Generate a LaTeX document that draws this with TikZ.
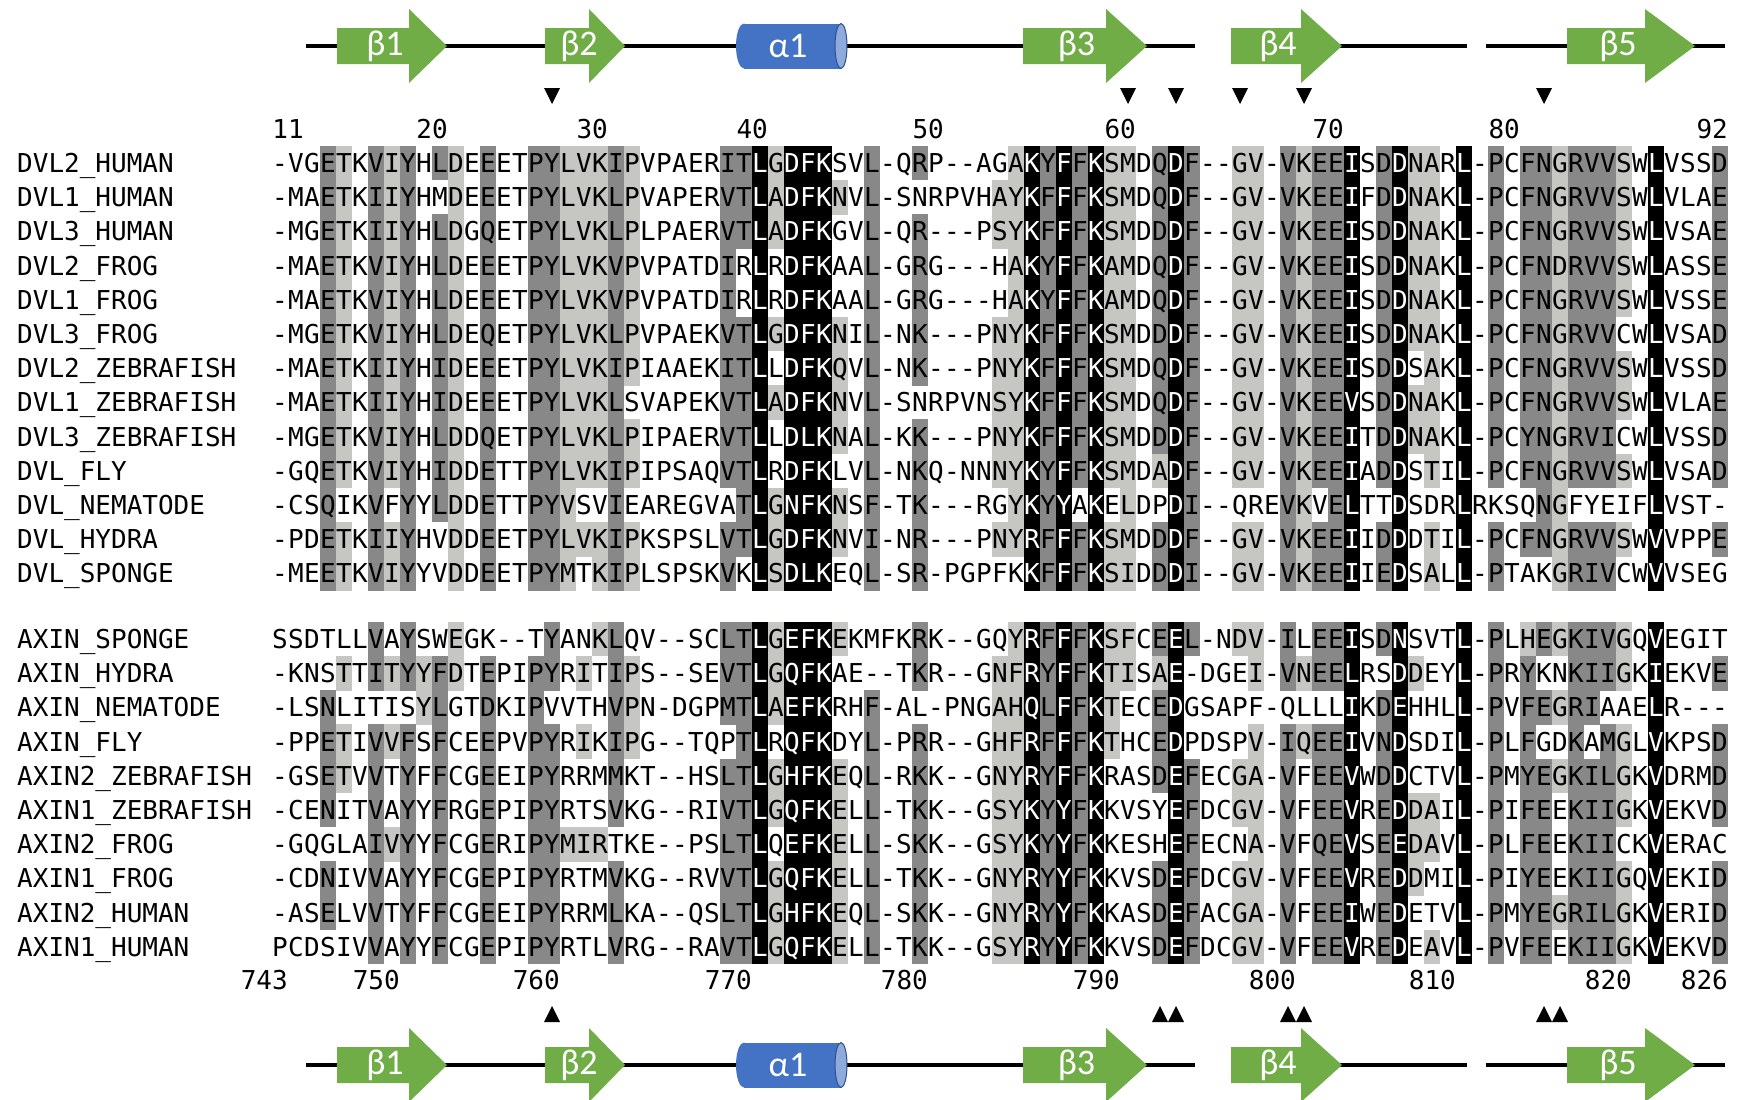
\documentclass[tikz,border=0pt]{standalone}
\usepackage{fontspec}
\setmonofont{DejaVu Sans Mono}
\newfontfamily\sslabelfont{Carlito}
\usepackage{xstring}

\definecolor{shade1}{RGB}{198,198,194}
\definecolor{shade2}{RGB}{136,136,136}
\definecolor{shade3}{RGB}{0,0,0}
\colorlet{ink0}{black}
\colorlet{ink1}{black}
\colorlet{ink2}{black}
\colorlet{ink3}{white}
\definecolor{strandgreen}{RGB}{112,173,71}
\definecolor{helixblue}{RGB}{68,114,196}
\definecolor{helixend}{RGB}{143,170,220}

% one alignment row: id, y, name, residues, shading (0 none, 1 light, 2 dark, 3 black)
\newcommand{\alnrow}[5]{%
  \node[seqname] (#1) at (17,#2+9.5) {#3};
  \StrDel{#5}{.}[\shadestr]%
  \foreach \i in {1,...,91} {
    \StrChar{#4}{\i}[\resch]%
    \StrChar{\shadestr}{\i}[\shd]%
    \ifnum\shd>0 \fill[shade\shd] ({256+16*\i},#2-17.2) rectangle ++(16.4,34.6);\fi
    \node[resid,text=ink\shd] (#1-\i) at ({264+16*\i},#2+9.5) {\resch};
  }
}

% strand arrow: name, start x, head x, tip x, y, label
\newcommand{\strandarrow}[6]{%
  \fill[strand] (#2,#5-18) -- (#3,#5-18) -- (#3,#5-37) -- (#4,#5) -- (#3,#5+37) -- (#3,#5+18) -- (#2,#5+18) -- cycle;
  \node[sslabel] (#1) at ({(#2+#3)/2+12},#5) {#6};
}

% secondary structure track: name prefix, y
\newcommand{\sstrack}[2]{%
  \draw[backbone] (306,#2) -- (1195,#2);
  \draw[backbone] (1231,#2) -- (1467,#2);
  \draw[backbone] (1486,#2) -- (1725,#2);
  \strandarrow{#1b1}{337}{409}{447}{#2}{β1}
  \strandarrow{#1b2}{545}{589}{625}{#2}{β2}
  \fill[helixblue] (744,#2-22.5) rectangle (841,#2+22.5);
  \fill[helixblue] (744,#2) ellipse [x radius=8, y radius=22.5];
  \filldraw[fill=helixend, draw=helixblue!70!black, line width=1pt] (841,#2) ellipse [x radius=6, y radius=22.5];
  \node[sslabel] (#1a1) at (788,#2) {α1};
  \strandarrow{#1b3}{1023}{1106}{1147}{#2}{β3}
  \strandarrow{#1b4}{1231}{1301}{1342}{#2}{β4}
  \strandarrow{#1b5}{1567}{1645}{1695}{#2}{β5}
}

\begin{document}
\begin{tikzpicture}[x=1pt,y=-1pt,
    seqfont/.style={font=\ttfamily\fontsize{26}{26}\selectfont},
    seqname/.style={seqfont,anchor=base west,inner sep=0pt},
    resid/.style={seqfont,anchor=base,inner sep=0pt},
    posnum/.style={seqfont,anchor=base east,inner sep=0pt},
    strand/.style={fill=strandgreen},
    sslabel/.style={text=white,inner sep=0pt,font=\sslabelfont\fontsize{36}{36}\selectfont},
    backbone/.style={line width=4pt}]
  \useasboundingbox (0,0) rectangle (1743,1100);

  % secondary structure
  \sstrack{top}{46}
  \sstrack{bot}{1065}

  % marked sites
  \foreach \c in {18,54,57,61,65,80}
    \fill ({264+16*\c-8},88) -- ++(16,0) -- ++(-8,16) -- cycle;
  \foreach \c in {18,56,57,64,65,80,81}
    \fill ({264+16*\c-8},1022) -- ++(16,0) -- ++(-8,-16) -- cycle;

  % residue numbers
  \foreach \c/\n in {2/11,11/20,21/30,31/40,42/50,54/60,67/70,78/80,91/92}
    \node[posnum] (dvl\n) at ({272+16*\c},138) {\n};
  \foreach \c/\n in {1/743,8/750,18/760,30/770,41/780,53/790,64/800,74/810,85/820,91/826}
    \node[posnum] (axin\n) at ({272+16*\c},989) {\n};

  % DVL block
  \alnrow{d1}{163.0}{DVL2\_HUMAN}{-VGETKVIYHLDEEETPYLVKIPVPAERITLGDFKSVL-QRP--AGAKYFFKSMDQDF--GV-VKEEISDDNARL-PCFNGRVVSWLVSSD}
    {0002102120.2102002211.1210000022.3133300200.2000001323.2311023200.1102122302.3110302022.12221030002}
  \alnrow{d2}{197.2}{DVL1\_HUMAN}{-MAETKIIYHMDEEETPYLVKLPVAPERVTLADFKNVL-SNRPVHAYKFFFKSMDQDF--GV-VKEEIFDDNAKL-PCFNGRVVSWLVLAE}
    {0002102120.0102002211.1210000022.3133310200.0000011323.2311023200.1102122302.3110302022.12221030002}
  \alnrow{d3}{231.4}{DVL3\_HUMAN}{-MGETKIIYHLDGQETPYLVKLPLPAERVTLADFKGVL-QR---PSYKFFFKSMDDDF--GV-VKEEISDDNAKL-PCFNGRVVSWLVSAE}
    {0002102120.2102002211.1210000022.3133300200.2000011323.2311023200.1102122302.3110302022.12221030002}
  \alnrow{d4}{265.6}{DVL2\_FROG}{-MAETKVIYHLDEEETPYLVKVPVPATDIRLRDFKAAL-GRG---HAKYFFKAMDQDF--GV-VKEEISDDNAKL-PCFNDRVVSWLASSE}
    {0002102120.2102002211.1210000020.3033300200.2000001323.2311023200.1102122302.3110302022.12221030002}
  \alnrow{d5}{299.8}{DVL1\_FROG}{-MAETKVIYHLDEEETPYLVKVPVPATDIRLRDFKAAL-GRG---HAKYFFKAMDQDF--GV-VKEEISDDNAKL-PCFNGRVVSWLVSSE}
    {0002102120.2102002211.1210000020.3033300200.2000001323.2311023200.1102122302.3110302022.12221030002}
  \alnrow{d6}{334.0}{DVL3\_FROG}{-MGETKVIYHLDEQETPYLVKLPVPAEKVTLGDFKNIL-NK---PNYKFFFKSMDDDF--GV-VKEEISDDNAKL-PCFNGRVVCWLVSAD}
    {0002102120.2102002211.1210000022.3133310200.2000011323.2311023200.1102122302.3110302022.12220030002}
  \alnrow{d7}{368.2}{DVL2\_ZEBRAFISH}{-MAETKIIYHIDEEETPYLVKIPIAAEKITLLDFKQVL-NK---PNYKFFFKSMDQDF--GV-VKEEISDDSAKL-PCFNGRVVSWLVSSD}
    {0002102120.2102002211.1210000022.3033310200.2000011323.2311023200.1102122302.3010302022.12221030002}
  \alnrow{d8}{402.4}{DVL1\_ZEBRAFISH}{-MAETKIIYHIDEEETPYLVKLSVAPEKVTLADFKNVL-SNRPVNSYKFFFKSMDQDF--GV-VKEEVSDDNAKL-PCFNGRVVSWLVLAE}
    {0002102120.2102002211.1200000022.3133310200.0000011323.2311023200.1102122302.3110302022.12221030002}
  \alnrow{d9}{436.6}{DVL3\_ZEBRAFISH}{-MGETKVIYHLDDQETPYLVKLPIPAERVTLLDLKNAL-KK---PNYKFFFKSMDDDF--GV-VKEEITDDNAKL-PCYNGRVICWLVSSD}
    {0002102120.2102002211.1210000022.3033310200.2000011323.2311023200.1102122302.3110302022.12220030002}
  \alnrow{d10}{470.8}{DVL\_FLY}{-GQETKVIYHIDDETTPYLVKIPIPSAQVTLRDFKLVL-NKQ-NNNYKYFFKSMDADF--GV-VKEEIADDSTIL-PCFNGRVVSWLVSAD}
    {0002102120.2102002211.1210000022.3033300200.2000011323.2311013200.1102122302.3010302022.12221030002}
  \alnrow{d11}{505.0}{DVL\_NEMATODE}{-CSQIKVFYYLDDETTPYVSVIEAREGVATLGNFKNSF-TK---RGYKYYAKELDPDI--QREVKVELTTDSDRLRKSQNGFYEIFLVST-}
    {0002002020.2102002210.0200000002.3133310200.2000001323.0301003200.0002102300.3000300002.10000030000}
  \alnrow{d12}{539.2}{DVL\_HYDRA}{-PDETKIIYHVDDEETPYLVKIPKSPSLVTLGDFKNVI-NR---PNYRFFFKSMDDDF--GV-VKEEIIDDDTIL-PCFNGRVVSWVVPPE}
    {0002102120.0102002211.1210000022.3133310200.2000011323.2311023200.1102122302.3010302022.12221030002}
  \alnrow{d13}{573.4}{DVL\_SPONGE}{-MEETKVIYYVDDEETPYMTKIPLSPSKVKLSDLKEQL-SR-PGPFKKFFFKSIDDDI--GV-VKEEIIEDSALL-PTAKGRIVCWVVSEG}
    {0002102120.0102002210.1210000020.3133300200.2000000323.2311023200.1102122302.3010302000.12220030000}

  % AXIN block
  \alnrow{a1}{639.0}{AXIN\_SPONGE}{SSDTLLVAYSWEGK--TYANKLQV--SCLTLGEFKEKMFKRK--GQYRFFFKSFCEEL-NDV-ILEEISDNSVTL-PLHEGKIVGQVEGIT}
    {0000002020.0100000200.1200000022.3133310000.2000001323.2311023200.1102022302.3000302012.12221030000}
  \alnrow{a2}{673.2}{AXIN\_HYDRA}{-KNSTTITYYFDTEPIPYRITIPS--SEVTLGQFKAE--TKR--GNFRYFFKTISAE-DGEI-VNEELRSDDEYL-PRYKNKIIGKIEKVE}
    {0000102121.2102002201.0210000022.3133300000.2000011323.2311013000.0102122300.3100302020.02221030002}
  \alnrow{a3}{707.4}{AXIN\_NEMATODE}{-LSNLITISYLGTDKIPVVTHVPN-DGPMTLAEFKRHF-AL-PNGAHQLFFKTECEDGSAPF-QLLLIKDEHHLL-PVFEGRIAAELR---}
    {0002000001.2002002000.0210000022.3133300200.0000011323.2310023000.0000000302.3000302022.12200030000}
  \alnrow{a4}{741.6}{AXIN\_FLY}{-PPETIVVFSFCEEPVPYRIKIPG--TQPTLRQFKDYL-PRR--GHFRFFFKTHCEDPDSPV-IQEEIVNDSDIL-PLFGDKAMGLVKPSD}
    {0002102120.2002002201.0210000002.3033300200.2000011323.2310023000.0102122302.3000302020.02021030002}
  \alnrow{a5}{775.8}{AXIN2\_ZEBRAFISH}{-GSETVVTYFFCGEEIPYRRMMKT--HSLTLGHFKEQL-RKK--GNYRYFFKRASDEFECGA-VFEEVWDDCTVL-PMYEGKILGKVDRMD}
    {0002102020.2002002200.0200000022.3133310200.2000011323.2300023200.1102022302.3000302022.12221030002}
  \alnrow{a6}{810.0}{AXIN1\_ZEBRAFISH}{-CENITVAYYFRGEPIPYRTSVKG--RIVTLGQFKELL-TKK--GSYKYYFKKVSYEFDCGV-VFEEVREDDAIL-PIFEEKIIGKVEKVD}
    {0002002020.2002002200.0200000022.3133310200.2000011323.2300003200.1102022302.3110302022.02221030002}
  \alnrow{a7}{844.2}{AXIN2\_FROG}{-GQGLAIVYYFCGERIPYMIRTKE--PSLTLQEFKELL-SKK--GSYKYYFKKESHEFECNA-VFQEVSEEDAVL-PLFEEKIICKVERAC}
    {0000002120.2002002211.1000000022.3033310200.2000011323.2300003200.0102022302.3110302022.02220030000}
  \alnrow{a8}{878.4}{AXIN1\_FROG}{-CDNIVVAYYFCGEPIPYRTMVKG--RVVTLGQFKELL-TKK--GNYRYYFKKVSDEFDCGV-VFEEVREDDMIL-PIYEEKIIGQVEKID}
    {0002002020.2002002200.0200000022.3133310200.2000011323.2300023200.1102022302.3100302022.02221030002}
  \alnrow{a9}{912.6}{AXIN2\_HUMAN}{-ASELVVTYFFCGEEIPYRRMLKA--QSLTLGHFKEQL-SKK--GNYRYYFKKASDEFACGA-VFEEIWEDETVL-PMYEGRILGKVERID}
    {0002002020.2002002200.0200000022.3133310200.2000011323.2300023200.1102022302.3000302022.12221030002}
  \alnrow{a10}{946.8}{AXIN1\_HUMAN}{PCDSIVVAYYFCGEPIPYRTLVRG--RAVTLGQFKELL-TKK--GSYRYYFKKVSDEFDCGV-VFEEVREDEAVL-PVFEEKIIGKVEKVD}
    {0000002020.2002002200.0200000022.3133310200.2000011323.2300023200.1102022302.3010302022.02221030002}
\end{tikzpicture}
\end{document}
